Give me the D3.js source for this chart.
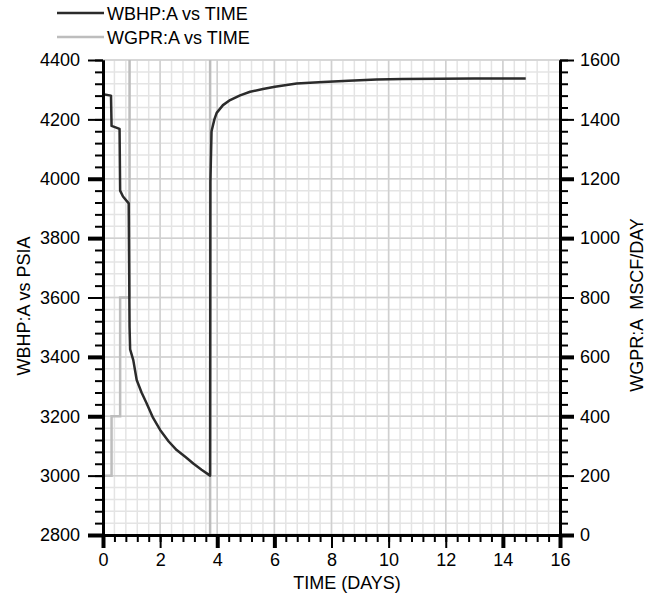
<!DOCTYPE html>
<html>
<head>
<meta charset="utf-8">
<script src="https://cdn.jsdelivr.net/npm/d3@7"></script>
<style>
  body { margin: 0; background: #fff; }
  text { font-family: "Liberation Sans", Arial, sans-serif; }
</style>
</head>
<body>
<div id="chart"></div>
<script>
// WBHP (bottom hole pressure, psia) vs time (days)
const bhpTime = [0, 0.28, 0.3, 0.58, 0.6, 0.7, 0.9, 0.93, 0.95, 1.06, 1.18, 1.35, 1.53, 1.75, 2.0, 2.3, 2.58, 2.9, 3.16, 3.45, 3.75,
  3.76, 3.8, 3.9, 3.98, 4.2, 4.45, 4.8, 5.15, 5.6, 6.02, 6.78, 7.71, 8.6, 9.58, 10.5, 11.8, 13.0, 14.8];
const bhpValues = [4285, 4280, 4178, 4168, 3960, 3940, 3917, 3500, 3425, 3389, 3322, 3280, 3243, 3195, 3154, 3115, 3086, 3062, 3041, 3020, 3000,
  3990, 4160, 4200, 4222, 4248, 4265, 4281, 4293, 4302, 4310, 4321, 4326, 4330, 4334, 4336, 4337, 4338, 4338];

// WGPR (gas rate, MSCF/DAY) vs time (days); the plateau sits above the axis top
const gprTime = [0, 0.3, 0.3, 0.6, 0.6, 0.93, 0.93, 3.75, 3.75, 14.8];
const gprValues = [200, 200, 400, 400, 800, 800, 1700, 1700, 0, 0];

const xTicks = [0, 2, 4, 6, 8, 10, 12, 14, 16];
const leftTicks = [2800, 3000, 3200, 3400, 3600, 3800, 4000, 4200, 4400];
const rightTicks = [0, 200, 400, 600, 800, 1000, 1200, 1400, 1600];

const seriesNames = ["WBHP:A vs TIME", "WGPR:A vs TIME"];

var margin = { top: 60, right: 95, bottom: 62, left: 103 };
var width = 655 - margin.left - margin.right,
  height = 597 - margin.top - margin.bottom;

let svg = d3.select("#chart").append("svg")
  .attr("width", 655)
  .attr("height", 597);

let g = svg.append("g")
  .attr("transform", `translate(${margin.left}, ${margin.top})`);

let x = d3.scaleLinear().domain([0, 16]).range([0, width]);
let yLeft = d3.scaleLinear().domain([2800, 4400]).range([height, 0]);
let yRight = d3.scaleLinear().domain([0, 1600]).range([height, 0]);

// grid
let minorX = d3.range(0, 16.001, 0.4);
let minorY = d3.range(2800, 4400.001, 40);
let grid = g.append("g");
grid.selectAll(".gx").data(minorX).enter().append("line")
  .attr("x1", d => x(d)).attr("x2", d => x(d))
  .attr("y1", 0).attr("y2", height)
  .attr("stroke", "#e4e4e4").attr("stroke-width", 1.5);
grid.selectAll(".gy").data(minorY).enter().append("line")
  .attr("y1", d => yLeft(d)).attr("y2", d => yLeft(d))
  .attr("x1", 0).attr("x2", width)
  .attr("stroke", "#e4e4e4").attr("stroke-width", 1.5);
grid.selectAll(".gX").data(xTicks).enter().append("line")
  .attr("x1", d => x(d)).attr("x2", d => x(d))
  .attr("y1", 0).attr("y2", height)
  .attr("stroke", "#d0d0d0").attr("stroke-width", 1.5);
grid.selectAll(".gY").data(leftTicks).enter().append("line")
  .attr("y1", d => yLeft(d)).attr("y2", d => yLeft(d))
  .attr("x1", 0).attr("x2", width)
  .attr("stroke", "#d0d0d0").attr("stroke-width", 1.5);

// lines
svg.append("clipPath").attr("id", "clip")
  .append("rect").attr("x", 0).attr("y", 0).attr("width", width).attr("height", height);

let plot = g.append("g").attr("clip-path", "url(#clip)");

let gprLine = d3.line().x(d => x(d[0])).y(d => yRight(d[1]));
plot.append("path")
  .datum(d3.zip(gprTime, gprValues))
  .attr("d", gprLine)
  .attr("fill", "none")
  .attr("stroke", "#bdbdbd")
  .attr("stroke-width", 2.5);

let bhpLine = d3.line().x(d => x(d[0])).y(d => yLeft(d[1]));
plot.append("path")
  .datum(d3.zip(bhpTime, bhpValues))
  .attr("d", bhpLine)
  .attr("fill", "none")
  .attr("stroke", "#2b2b2b")
  .attr("stroke-width", 2.5)
  .attr("stroke-linejoin", "round");

// axes
const heavyY = [0, 2, 3, 5, 6]; // indexes of the heavier major ticks
const heavyX = [0, 2, 3, 7, 8];

function styleAxis(sel, heavy) {
  sel.select(".domain").attr("stroke", "#000").attr("stroke-width", 3);
  sel.selectAll(".tick line").attr("stroke", "#000")
    .attr("stroke-width", (d, i) => heavy && heavy.includes(i) ? 4 : 2);
  sel.selectAll(".tick text").attr("fill", "#000").style("font-size", "18px");
}

// minor ticks first
g.append("g").call(d3.axisLeft(yLeft).tickValues(minorY).tickSize(8).tickSizeOuter(0).tickFormat(""))
  .call(s => styleAxis(s, null));
g.append("g").attr("transform", `translate(${width}, 0)`)
  .call(d3.axisRight(yRight).tickValues(d3.range(0, 1600.001, 40)).tickSize(8).tickSizeOuter(0).tickFormat(""))
  .call(s => styleAxis(s, null));
g.append("g").attr("transform", `translate(0, ${height})`)
  .call(d3.axisBottom(x).tickValues(minorX).tickSize(7).tickSizeOuter(0).tickFormat(""))
  .call(s => styleAxis(s, null));

g.append("g")
  .call(d3.axisLeft(yLeft).tickValues(leftTicks).tickSize(15).tickSizeOuter(0).tickPadding(8).tickFormat(d3.format("d")))
  .call(s => styleAxis(s, heavyY));
g.append("g").attr("transform", `translate(${width}, 0)`)
  .call(d3.axisRight(yRight).tickValues(rightTicks).tickSize(14).tickSizeOuter(0).tickPadding(6).tickFormat(d3.format("d")))
  .call(s => styleAxis(s, heavyY));
g.append("g").attr("transform", `translate(0, ${height})`)
  .call(d3.axisBottom(x).tickValues(xTicks).tickSize(13).tickSizeOuter(0).tickPadding(5).tickFormat(d3.format("d")))
  .call(s => styleAxis(s, heavyX));

// axis titles
svg.append("text")
  .attr("x", 347).attr("y", 589)
  .attr("text-anchor", "middle")
  .style("font-size", "18px")
  .text("TIME (DAYS)");

svg.append("text")
  .attr("transform", "translate(30, 306) rotate(-90)")
  .attr("text-anchor", "middle")
  .style("font-size", "18px")
  .text("WBHP:A vs PSIA");

svg.append("text")
  .attr("transform", "translate(643, 305) rotate(-90)")
  .attr("text-anchor", "middle")
  .style("font-size", "18px")
  .style("white-space", "pre")
  .text("WGPR:A  MSCF/DAY");

// legend
let legend = svg.selectAll(".legend")
  .data(seriesNames)
  .enter().append("g")
  .attr("transform", (d, i) => `translate(0, ${13 + i * 24})`);
legend.append("line")
  .attr("x1", 57).attr("x2", 104)
  .attr("y1", 0).attr("y2", 0)
  .attr("stroke", (d, i) => i === 0 ? "#2b2b2b" : "#bdbdbd")
  .attr("stroke-width", 2.5);
legend.append("text")
  .attr("x", 107).attr("y", 7)
  .style("font-size", "18px")
  .text(d => d);
</script>
</body>
</html>
